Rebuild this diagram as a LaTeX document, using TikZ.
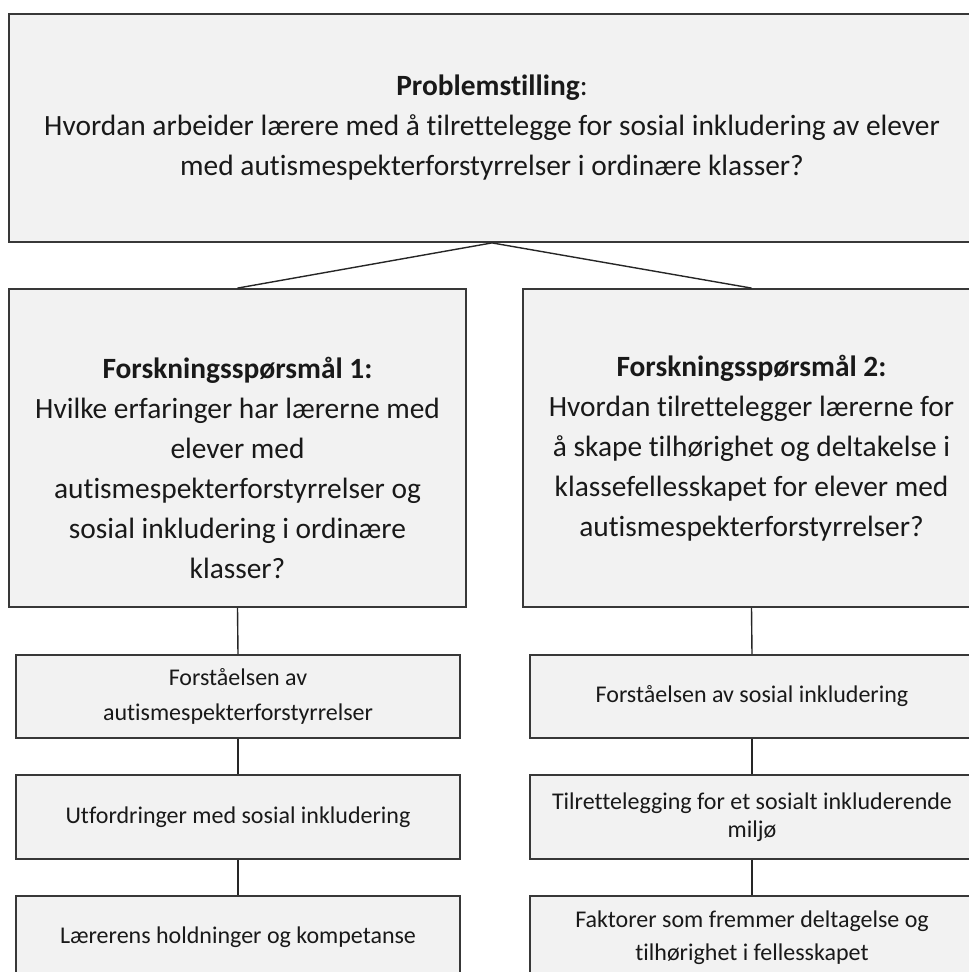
\documentclass[tikz,border=0pt]{standalone}
\usepackage{fontspec}
\setmainfont{Carlito}[Ligatures=NoCommon]
\begin{document}
\begin{tikzpicture}[x=1pt,y=-1pt,
  box/.style={draw=black!78,fill=black!5,line width=1.8pt,inner sep=0pt,rectangle},
  conn/.style={draw=black!85,line width=1.4pt},
  big/.style={font=\fontsize{29.4}{40}\selectfont,align=center,text=black!90},
  small/.style={font=\fontsize{24}{35}\selectfont,align=center,text=black!90}]
\useasboundingbox (0,0) rectangle (969,972);
% top
\node[box,minimum width=966pt,minimum height=228pt,big] (top) at (492,128)
 {\textbf{Problemstilling}:\\Hvordan arbeider lærere med å tilrettelegge for sosial inkludering av elever\\med autismespekterforstyrrelser i ordinære klasser?};
% research questions
\node[box,minimum width=457pt,minimum height=318pt] (fq1) at (237.5,448) {};
\node[big] (fq1t) at (237.5,468) {\textbf{Forskningsspørsmål 1:}\\Hvilke erfaringer har lærerne med\\elever med\\autismespekterforstyrrelser og\\sosial inkludering i ordinære\\klasser?};
\node[box,minimum width=457pt,minimum height=318pt,big] (fq2) at (751.5,448) {\textbf{Forskningsspørsmål 2:}\\Hvordan tilrettelegger lærerne for\\å skape tilhørighet og deltakelse i\\klassefellesskapet for elever med\\autismespekterforstyrrelser?};
% left column
\node[box,minimum width=444pt,minimum height=83pt,small] (l1) at (238,696.5) {Forståelsen av\\autismespekterforstyrrelser};
\node[box,minimum width=444pt,minimum height=84pt,small] (l2) at (238,817) {Utfordringer med sosial inkludering};
\node[box,minimum width=444pt,minimum height=83pt,small] (l3) at (238,937.5) {Lærerens holdninger og kompetanse};
% right column
\node[box,minimum width=444pt,minimum height=83pt,small] (r1) at (752,696.5) {Forståelsen av sosial inkludering};
\node[box,minimum width=444pt,minimum height=84pt,small,font=\fontsize{24}{28}\selectfont] (r2) at (752,817) {Tilrettelegging for et sosialt inkluderende\\miljø};
\node[box,minimum width=444pt,minimum height=83pt,small,font=\fontsize{24}{33}\selectfont] (r3) at (752,937.5) {Faktorer som fremmer deltagelse og\\tilhørighet i fellesskapet};
% connectors
\draw[conn] (top.south) -- (fq1.north);
\draw[conn] (top.south) -- (fq2.north);
\draw[conn] (fq1.south) -- (l1.north);
\draw[conn] (l1.south) -- (l2.north);
\draw[conn] (l2.south) -- (l3.north);
\draw[conn] (fq2.south) -- (r1.north);
\draw[conn] (r1.south) -- (r2.north);
\draw[conn] (r2.south) -- (r3.north);
\end{tikzpicture}
\end{document}
